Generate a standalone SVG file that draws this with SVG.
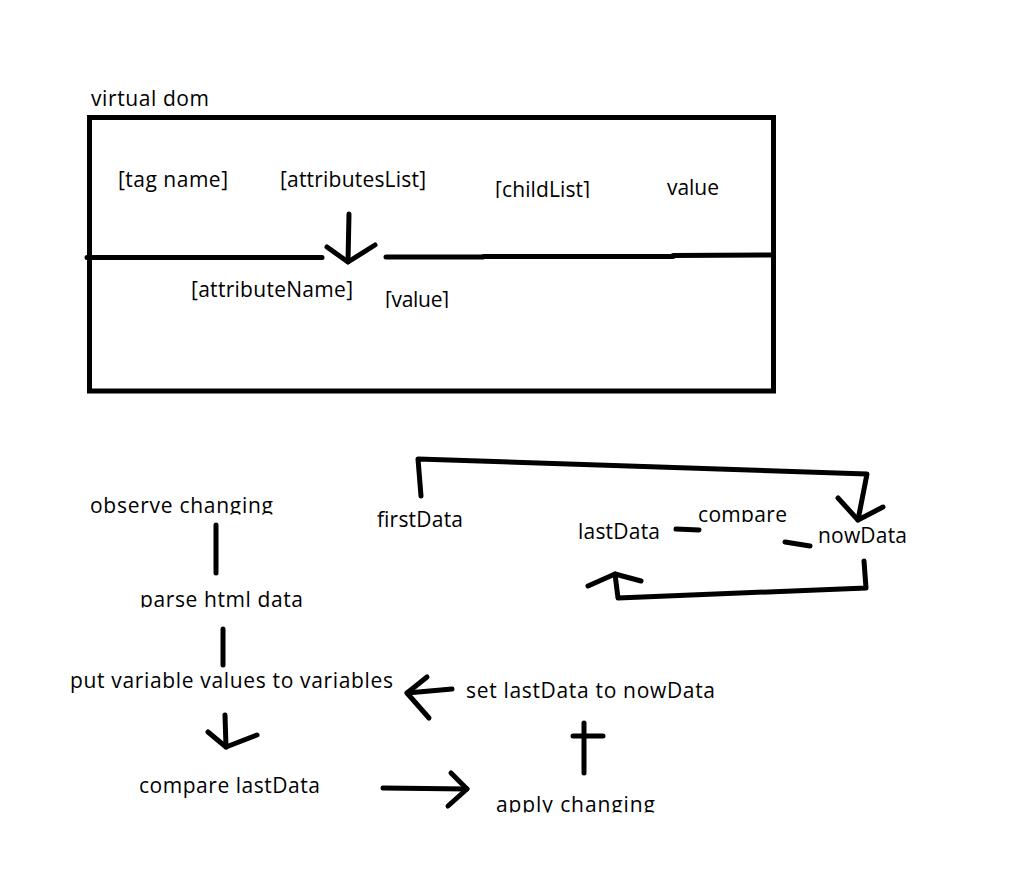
<svg xmlns="http://www.w3.org/2000/svg" width="1019" height="873" viewBox="0 0 1019 873">
  <style>
    .t { font-family: "Open Sans", "Noto Sans", "Noto Sans CJK KR", sans-serif; font-size: 21px; fill: #000; }
    .s { fill: none; stroke: #000; stroke-width: 5; stroke-linecap: round; stroke-linejoin: round; }
    .frame { fill: none; stroke: #000; stroke-width: 5; stroke-linecap: square; }
  </style>
  <defs>
    <!-- text rows cut off along their baseline -->
    <clipPath id="cut-childList"><rect x="480" y="170" width="130" height="28"/></clipPath>
    <clipPath id="cut-value2"><rect x="370" y="280" width="100" height="28"/></clipPath>
    <clipPath id="cut-observe"><rect x="80" y="490" width="210" height="24.5"/></clipPath>
    <clipPath id="cut-parse"><rect x="130" y="585" width="190" height="22.5"/></clipPath>
    <clipPath id="cut-apply"><rect x="485" y="785" width="190" height="27.5"/></clipPath>
    <clipPath id="cut-compare"><rect x="690" y="500" width="110" height="22"/></clipPath>
  </defs>

  <!-- virtual dom structure -->
  <g id="virtual-dom">
    <text class="t" x="91" y="106" textLength="118" lengthAdjust="spacing">virtual dom</text>
    <rect class="frame" x="89.5" y="117.5" width="684" height="273.5"/>
    <polyline class="s" points="87,257.5 322,257.5"/>
    <polyline class="s" points="386,257 483,257 483,256.5 673,256.5 673,255.5 773,255"/>
  </g>
  <g id="tag-name">
    <text class="t" x="118" y="187" textLength="110" lengthAdjust="spacing">[tag name]</text>
  </g>
  <g id="attributes-list">
    <text class="t" x="280" y="187" textLength="146" lengthAdjust="spacing">[attributesList]</text>
  </g>
  <g id="child-list">
    <text class="t" x="495" y="197" textLength="95" lengthAdjust="spacing" clip-path="url(#cut-childList)">[childList]</text>
  </g>
  <g id="value">
    <text class="t" x="667" y="195" textLength="52" lengthAdjust="spacing">value</text>
  </g>
  <g id="attribute-name">
    <text class="t" x="191" y="297" textLength="162" lengthAdjust="spacing">[attributeName]</text>
  </g>
  <g id="attribute-value">
    <text class="t" x="385" y="307" textLength="64" lengthAdjust="spacing" clip-path="url(#cut-value2)">[value]</text>
  </g>

  <!-- data comparison loop -->
  <g id="first-data">
    <text class="t" x="377" y="527" textLength="86" lengthAdjust="spacing">firstData</text>
  </g>
  <g id="last-data">
    <text class="t" x="578" y="539" textLength="82" lengthAdjust="spacing">lastData</text>
  </g>
  <g id="compare">
    <text class="t" x="698" y="522" textLength="89" lengthAdjust="spacing" clip-path="url(#cut-compare)">compare</text>
  </g>
  <g id="now-data">
    <text class="t" x="818" y="543" textLength="89" lengthAdjust="spacing">nowData</text>
  </g>

  <!-- update pipeline -->
  <g id="observe-changing">
    <text class="t" x="90" y="513" textLength="183" lengthAdjust="spacing" clip-path="url(#cut-observe)">observe changing</text>
  </g>
  <g id="parse-html-data">
    <text class="t" x="140" y="607" textLength="163" lengthAdjust="spacing" clip-path="url(#cut-parse)">parse html data</text>
  </g>
  <g id="put-variable-values">
    <text class="t" x="70" y="688" textLength="323" lengthAdjust="spacing">put variable values to variables</text>
  </g>
  <g id="compare-last-data">
    <text class="t" x="139" y="793" textLength="181" lengthAdjust="spacing">compare lastData</text>
  </g>
  <g id="apply-changing">
    <text class="t" x="496" y="812" textLength="159" lengthAdjust="spacing" clip-path="url(#cut-apply)">apply changing</text>
  </g>
  <g id="set-last-data">
    <text class="t" x="466" y="698" textLength="249" lengthAdjust="spacing">set lastData to nowData</text>
  </g>

  <g id="connectors">
    <!-- attributesList down into attribute row -->
    <polyline class="s" points="349,214 348,262"/>
    <polyline class="s" points="327,247 348,262 375,245"/>

    <!-- firstData to nowData -->
    <polyline class="s" points="421,496 418,459 867,474 858,520"/>
    <polyline class="s" points="838,498 858,520 883,507"/>
    <!-- nowData back to lastData -->
    <polyline class="s" points="864,561 866,588 618,598 615,574"/>
    <polyline class="s" points="588,586 615,574 641,581"/>
    <!-- compare dashes -->
    <line class="s" x1="676" y1="529" x2="699" y2="530"/>
    <line class="s" x1="785" y1="542" x2="810" y2="546"/>

    <!-- pipeline steps -->
    <line class="s" x1="216" y1="525" x2="216" y2="573"/>
    <line class="s" x1="223" y1="629" x2="223" y2="665"/>
    <polyline class="s" points="225,715 226,747"/>
    <polyline class="s" points="208,732 226,747 257,735"/>
    <line class="s" x1="383" y1="788" x2="467" y2="789"/>
    <polyline class="s" points="451,773 467,789 448,806"/>
    <line class="s" x1="584" y1="723" x2="584" y2="773"/>
    <line class="s" x1="573" y1="736" x2="603" y2="736"/>
    <line class="s" x1="452" y1="689" x2="407" y2="693"/>
    <polyline class="s" points="427,677 407,693 429,718"/>
  </g>
</svg>
